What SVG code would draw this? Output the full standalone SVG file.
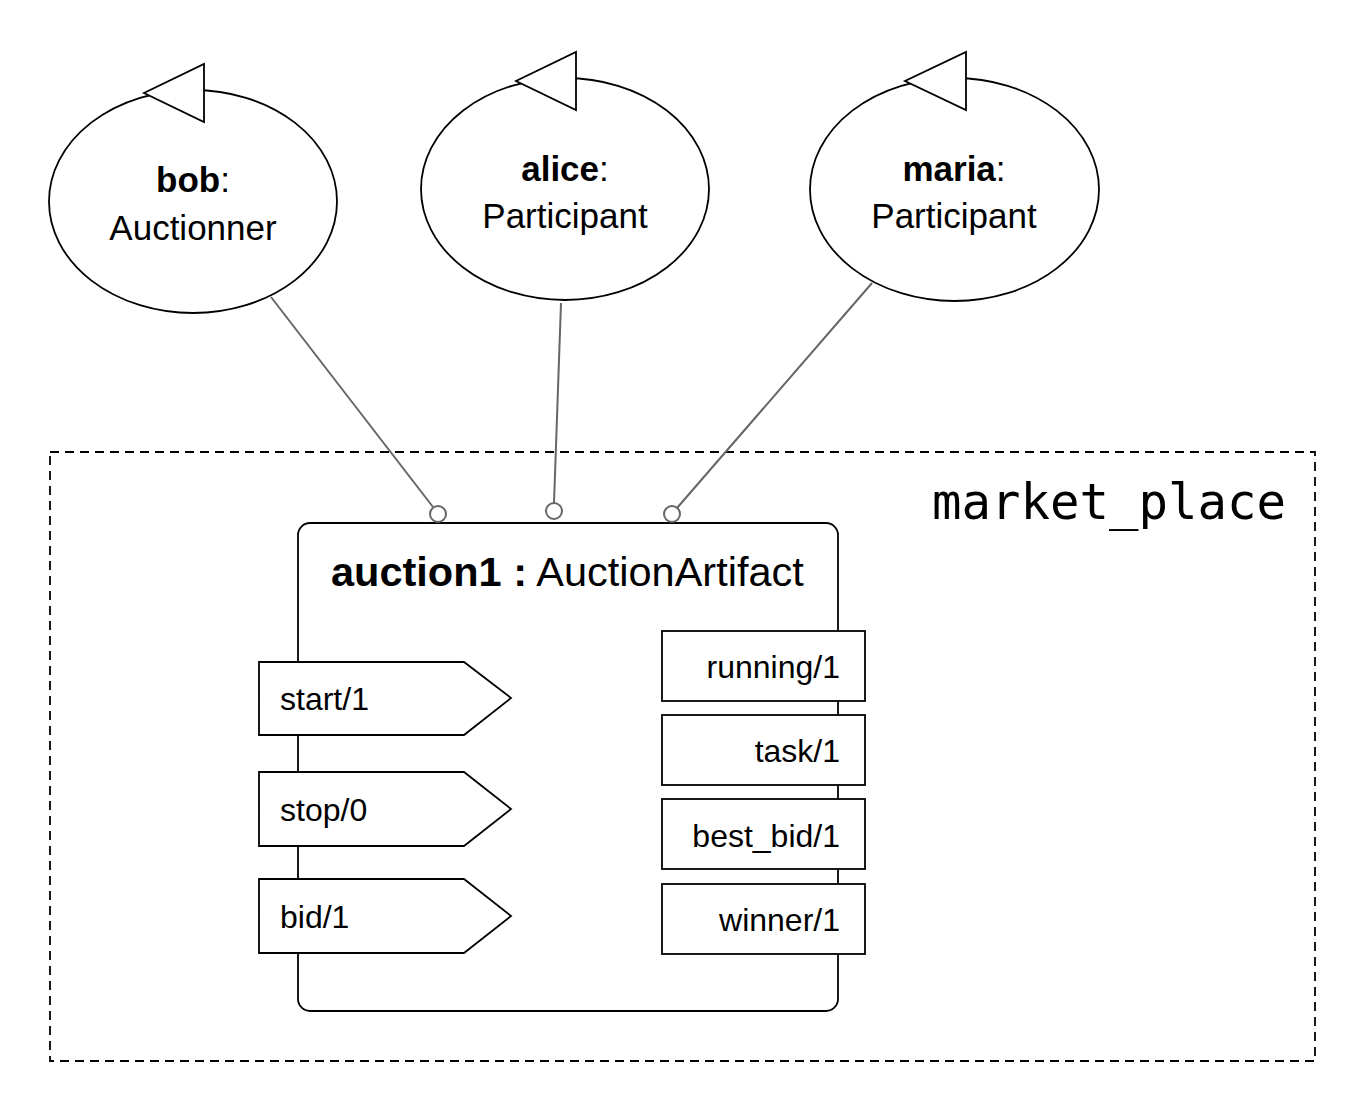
<svg xmlns="http://www.w3.org/2000/svg" width="1366" height="1112" viewBox="0 0 1366 1112">
<style>
.sh{fill:#fff;stroke:#000;stroke-width:1.8}
.t{font-family:"Liberation Sans",Arial,sans-serif;fill:#000}
.ag{font-size:35px;text-anchor:middle}
.op{font-size:32px}
.pr{font-size:32px;text-anchor:end}
.cn{stroke:#666;stroke-width:2;fill:none}
.port{fill:#fff;stroke:#666;stroke-width:2}
</style>
<rect width="1366" height="1112" fill="#fff"/>
<g id="market_place">
<rect x="50" y="452" width="1265" height="609" fill="none" stroke="#000" stroke-width="1.8" stroke-dasharray="9,6"/>
<text x="932" y="519" font-family="'DejaVu Sans Mono',monospace" font-size="49" fill="#000">market_place</text>
</g>
<g id="bob">
<ellipse class="sh" cx="193" cy="201.5" rx="144" ry="111.5"/>
<polygon class="sh" points="204,64 204,122 144,93"/>
<text class="t ag" x="193" y="192"><tspan font-weight="bold">bob</tspan>:</text>
<text class="t ag" x="193" y="240">Auctionner</text>
</g>
<g id="alice">
<ellipse class="sh" cx="565" cy="189" rx="144" ry="111"/>
<polygon class="sh" points="576,52 576,110 516,81"/>
<text class="t ag" x="565" y="181"><tspan font-weight="bold">alice</tspan>:</text>
<text class="t ag" x="565" y="228">Participant</text>
</g>
<g id="maria">
<ellipse class="sh" cx="954.5" cy="189.5" rx="144.5" ry="111.5"/>
<polygon class="sh" points="966,52 966,110 905,81"/>
<text class="t ag" x="954" y="181"><tspan font-weight="bold">maria</tspan>:</text>
<text class="t ag" x="954" y="228">Participant</text>
</g>
<g id="auction1">
<rect class="sh" x="298" y="523" width="540" height="488" rx="12" ry="12"/>
<text class="t" x="331" y="586" font-size="41.5"><tspan font-weight="bold">auction1 :</tspan> AuctionArtifact</text>
<g id="op-start">
<polygon class="sh" points="259,662 464,662 511,698 464,735 259,735"/>
<text class="t op" x="280" y="710">start/1</text>
</g>
<g id="op-stop">
<polygon class="sh" points="259,772 464,772 511,809 464,846 259,846"/>
<text class="t op" x="280" y="821">stop/0</text>
</g>
<g id="op-bid">
<polygon class="sh" points="259,879 464,879 511,916 464,953 259,953"/>
<text class="t op" x="280" y="928">bid/1</text>
</g>
<g id="prop-running">
<rect class="sh" x="662" y="631" width="203" height="70"/>
<text class="t pr" x="840" y="678">running/1</text>
</g>
<g id="prop-task">
<rect class="sh" x="662" y="715" width="203" height="70"/>
<text class="t pr" x="840" y="762">task/1</text>
</g>
<g id="prop-best_bid">
<rect class="sh" x="662" y="799" width="203" height="70"/>
<text class="t pr" x="840" y="847">best_bid/1</text>
</g>
<g id="prop-winner">
<rect class="sh" x="662" y="884" width="203" height="70"/>
<text class="t pr" x="840" y="931">winner/1</text>
</g>
</g>
<g id="connectors">
<line class="cn" x1="271" y1="297" x2="433" y2="507"/>
<circle class="port" cx="438" cy="514" r="8"/>
<line class="cn" x1="561" y1="303" x2="554" y2="503"/>
<circle class="port" cx="554" cy="511" r="8"/>
<line class="cn" x1="872" y1="283" x2="677" y2="508"/>
<circle class="port" cx="672" cy="514" r="8"/>
</g>
</svg>
